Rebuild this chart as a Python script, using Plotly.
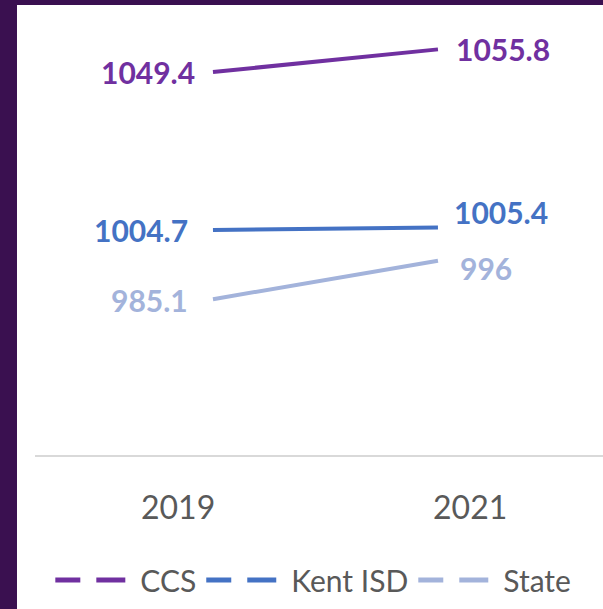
import plotly.graph_objects as go

years = ["2019", "2021"]
year_nums = [2019, 2021]
series_names = ["CCS", "Kent ISD", "State"]
ccs = [1049.4, 1055.8]
kent = [1004.7, 1005.4]
state = [985.1, 996]

colors = ["#7030A0", "#4472C4", "#A3B3DB"]
label_bold = [True, True, True]
# label offsets (px) per series: (left xshift, left yshift, right xshift, right yshift)
label_offsets = [(-16, 0, 16, 0), (-23, 0, 14, 15), (-23, -1, 20, -7)]

FONT = "Lato"
fig = go.Figure()

all_series = [ccs, kent, state]
for name, vals, col in zip(series_names, all_series, colors):
    fig.add_trace(go.Scatter(x=year_nums, y=vals, mode="lines", name=name,
                             line=dict(color=col, width=4), showlegend=False,
                             hoverinfo="skip"))
    fig.add_trace(go.Scatter(x=[None], y=[None], mode="lines", name=name,
                             line=dict(color=col, width=5, dash="25px,16px,29px"),
                             showlegend=True))

annotations = []
for vals, col, bold, off in zip(all_series, colors, label_bold, label_offsets):
    for i, (xv, yv) in enumerate(zip(year_nums, vals)):
        txt = f"{yv:g}"
        if bold:
            txt = f"<b>{txt}</b>"
        left = i == 0
        annotations.append(dict(
            x=xv, y=yv, xref="x", yref="y", text=txt, showarrow=False,
            xanchor="right" if left else "left", yanchor="middle",
            xshift=off[0] if left else off[2], yshift=off[1] if left else off[3],
            font=dict(family=FONT, size=30, color=col)))

# purple frame
shapes = [dict(type="rect", xref="paper", yref="paper", x0=-0.07, x1=-0.0317,
               y0=-0.6, y1=1.2, fillcolor="#3A1050", line_width=0, layer="below"),
          dict(type="rect", xref="paper", yref="paper", x0=-0.07, x1=1.02,
               y0=1.0613, y1=1.2, fillcolor="#3A1050", line_width=0, layer="below")]

fig.update_layout(
    width=603, height=609,
    margin=dict(l=35, r=0, t=31, b=154, autoexpand=False),
    paper_bgcolor="white", plot_bgcolor="white",
    showlegend=True,
    legend=dict(orientation="h", x=0.49, xanchor="center", y=-0.295, yanchor="middle",
                font=dict(family=FONT, size=30, color="#595959"),
                tracegroupgap=0, itemwidth=80),
    xaxis=dict(range=[2017.418, 2022.467], showgrid=False, zeroline=False,
               showticklabels=False, showline=True, linecolor="#D9D9D9", linewidth=2,
               fixedrange=True),
    xaxis2=dict(overlaying="x", anchor="y", side="bottom", range=[-0.49, 1.455],
                tickmode="array", tickvals=list(range(len(years))), ticktext=years,
                showgrid=False, zeroline=False, showline=False,
                ticks="outside", ticklen=25, tickcolor="rgba(0,0,0,0)",
                tickfont=dict(family=FONT, size=32, color="#595959")),
    yaxis=dict(range=[941, 1061], visible=False, showgrid=False, zeroline=False),
    annotations=annotations,
    shapes=shapes,
)
# dummy trace to activate xaxis2
fig.add_trace(go.Scatter(x=[None], y=[None], xaxis="x2", yaxis="y", showlegend=False))

fig.write_html("out.html", config={"displayModeBar": False},
               post_script="document.body.style.margin='0';")
